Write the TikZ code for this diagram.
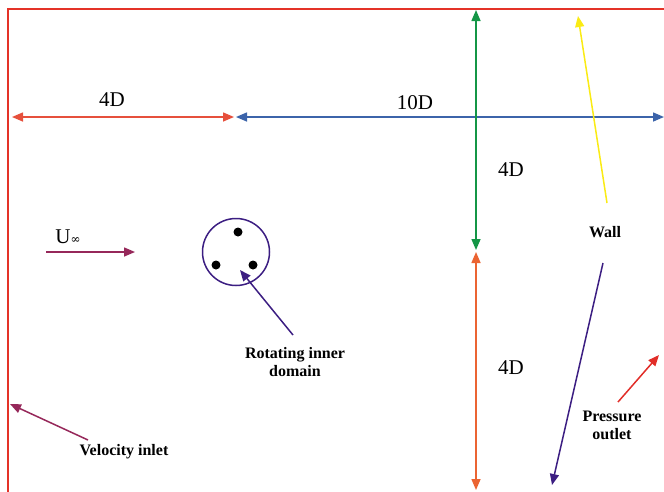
\documentclass[tikz,border=0pt]{standalone}
\usepackage{fontspec}
\setmainfont{Liberation Serif}
\usetikzlibrary{arrows.meta}
\definecolor{frameRed}{RGB}{228,50,40}
\definecolor{dimRed}{RGB}{230,80,60}
\definecolor{dimBlue}{RGB}{60,100,170}
\definecolor{dimGreen}{RGB}{20,150,70}
\definecolor{dimOrange}{RGB}{235,100,50}
\definecolor{wallYellow}{RGB}{250,235,20}
\definecolor{deepPurple}{RGB}{60,30,130}
\definecolor{maroon}{RGB}{150,40,90}
\definecolor{outRed}{RGB}{225,45,40}
\begin{document}
\begin{tikzpicture}[x=1pt,y=-1pt,
  tip/.style={-{Triangle[length=11pt,width=9pt]}},
  dtip/.style={{Triangle[length=11pt,width=9pt]}-{Triangle[length=11pt,width=9pt]}},
  dimlabel/.style={font=\fontsize{21}{21}\selectfont},
  boldlabel/.style={font=\bfseries\fontsize{16}{18}\selectfont, align=center},
  line/.style={line width=1.5pt}]
\useasboundingbox (0,0) rectangle (664,491);
% frame
\coordinate (fTL) at (8,9);
\coordinate (fTR) at (666,9);
\coordinate (fBL) at (8,493);
\draw[frameRed, line width=1.5pt] (fTR) -- (fTL) -- (fBL);
% horizontal dimensions
\coordinate (h1) at (12,117);
\coordinate (h2) at (234,117);
\coordinate (h3) at (236,117);
\coordinate (h4) at (664,117);
\draw[dimRed, line, dtip] (h1) -- (h2);
\draw[dimBlue, line, dtip] (h3) -- (h4);
\node[dimlabel] (l4Da) at (112,100) {4D};
\node[dimlabel] (l10D) at (415,103) {10D};
% vertical dimensions
\coordinate (v1) at (476,10);
\coordinate (v2) at (476,250);
\coordinate (v3) at (476,252);
\coordinate (v4) at (476,490);
\draw[dimGreen, line, dtip] (v1) -- (v2);
\draw[dimOrange, line, dtip] (v3) -- (v4);
\node[dimlabel] (l4Db) at (511,170) {4D};
\node[dimlabel] (l4Dc) at (511,368) {4D};
% wall
\node[boldlabel] (wall) at (605,232) {Wall};
\coordinate (wallA) at (607,203);
\coordinate (wallB) at (578,16);
\coordinate (wallC) at (603,263);
\coordinate (wallD) at (552,485);
\draw[wallYellow, line, tip] (wallA) -- (wallB);
\draw[deepPurple, line, tip] (wallC) -- (wallD);
% pressure outlet
\node[boldlabel] (pout) at (612,425) {Pressure\\outlet};
\coordinate (poA) at (618,402);
\coordinate (poB) at (659,355);
\draw[outRed, line, tip] (poA) -- (poB);
% free stream
\node[dimlabel] (uinf) at (68,237) {U\fontspec{DejaVu Serif}\fontsize{12}{12}\selectfont ∞};
\coordinate (uA) at (46,252);
\coordinate (uB) at (135,252);
\draw[maroon, line, tip] (uA) -- (uB);
% rotating domain
\node[draw=deepPurple, line width=1.5pt, circle, minimum size=67pt, inner sep=0pt] (dom) at (236,252) {};
\fill (238,232) circle (4.5pt);
\fill (216,265) circle (4.5pt);
\fill (253,265) circle (4.5pt);
\node[boldlabel] (rot) at (295,362) {Rotating inner\\domain};
\coordinate (rA) at (293,335);
\coordinate (rB) at (240,270);
\draw[deepPurple, line, tip] (rA) -- (rB);
% velocity inlet
\node[boldlabel] (vin) at (124,452) {Velocity inlet};
\coordinate (viA) at (88,440);
\coordinate (viB) at (10,404);
\draw[maroon, line, tip] (viA) -- (viB);
\end{tikzpicture}
\end{document}
